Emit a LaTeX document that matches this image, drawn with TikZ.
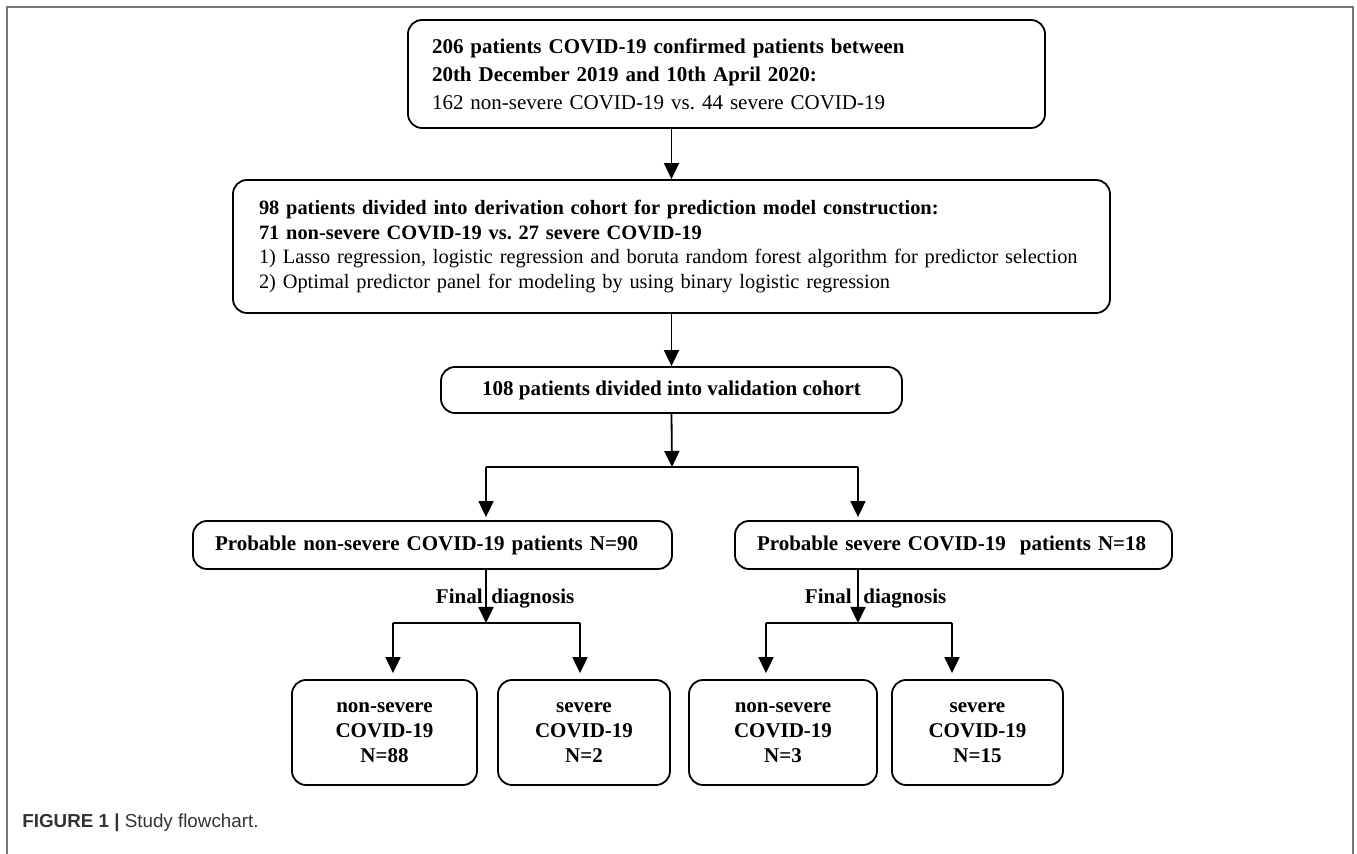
\documentclass[tikz,border=0pt]{standalone}
\usepackage{fontspec}
\setmainfont{Liberation Serif}
\newfontfamily\capfont{Liberation Sans}
\usetikzlibrary{arrows.meta,calc,positioning}
\definecolor{ink}{HTML}{000000}
\definecolor{frame}{HTML}{777777}
\definecolor{captxt}{HTML}{333333}
\tikzset{
  flowbox/.style={draw=ink,line width=0.9pt,rounded corners=7pt,inner ysep=0pt,font=\fontsize{10.5}{14}\selectfont},
  leftbox/.style={flowbox,align=left},
  midbox/.style={flowbox,align=center,inner xsep=0pt,font=\fontsize{10.5}{12.5}\selectfont\bfseries},
  flowarrow/.style={-{Triangle[length=8pt,width=7.5pt]},line width=0.9pt,draw=ink},
  bar/.style={line width=0.9pt,draw=ink},
  tag/.style={font=\fontsize{10.5}{12}\selectfont\bfseries,inner sep=0pt}
}
\frenchspacing

\begin{document}
\begin{tikzpicture}[x=0.5pt,y=-0.5pt]
        \useasboundingbox (0,0) rectangle (1357,854);
        \draw[frame,line width=1pt] (7,870) -- (7,7) -- (1353,7) -- (1353,870);

        % boxes
        \node[leftbox,inner xsep=12pt,text width=294.5pt,minimum height=54pt] (cohort) at (726.5,74)
          {\textbf{206 patients COVID-19 confirmed patients between}\\\textbf{20th December 2019 and 10th April 2020:}\\162 non-severe COVID-19 vs. 44 severe COVID-19};
        \node[leftbox,inner xsep=13pt,text width=412.5pt,minimum height=66.5pt,font=\fontsize{10.2}{12.4}\selectfont] (derive) at (671.5,246.5)
          {\textbf{98 patients divided into derivation cohort for prediction model construction:}\\\textbf{71 non-severe COVID-19 vs. 27 severe COVID-19}\\1) Lasso regression, logistic regression and boruta random forest algorithm for predictor selection\\2) Optimal predictor panel for modeling by using binary logistic regression};
        \node[midbox,minimum width=230.5pt,minimum height=23pt] (valid) at (671.5,390) {108 patients divided into validation cohort};

        \node[leftbox,inner xsep=11pt,text width=217.5pt,minimum height=24pt,font=\fontsize{10.5}{12}\selectfont\bfseries] (probns) at (432.5,545) {Probable non-severe COVID-19 patients N=90};
        \node[leftbox,inner xsep=11pt,text width=196.5pt,minimum height=24pt,font=\fontsize{10.5}{12}\selectfont\bfseries] (probsv) at (953.5,545) {Probable severe COVID-19~ patients N=18};

        \node[midbox,minimum width=92.5pt,minimum height=52.5pt] (nsns) at (384.5,732.5) {non-severe\\COVID-19\\N=88};
        \node[midbox,minimum width=86pt,minimum height=52.5pt] (nssv) at (584,732.5) {severe\\COVID-19\\N=2};
        \node[midbox,minimum width=94pt,minimum height=52.5pt] (svns) at (783,732.5) {non-severe\\COVID-19\\N=3};
        \node[midbox,minimum width=85.5pt,minimum height=52.5pt] (svsv) at (977.5,732.5) {severe\\COVID-19\\N=15};

        % split points
        \coordinate (split1) at (672,467);
        \coordinate (split1l) at (486,467);
        \coordinate (split1r) at (858,467);
        \coordinate (split2) at (486,623);
        \coordinate (split2l) at (393,623);
        \coordinate (split2r) at (580,623);
        \coordinate (split3) at (858,623);
        \coordinate (split3l) at (766,623);
        \coordinate (split3r) at (952,623);

        \draw[flowarrow] (cohort.south -| derive.north) -- (derive.north);
        \draw[flowarrow] (derive.south) -- (valid.north);
        \draw[flowarrow] (valid.south) -- (split1);
        \draw[bar] (split1l) -- (split1r);
        \draw[flowarrow,shorten >=1.5pt] (split1l) -- (split1l |- probns.north);
        \draw[flowarrow,shorten >=1.5pt] (split1r) -- (split1r |- probsv.north);

        \draw[flowarrow] (probns.south -| split2) -- (split2);
        \draw[bar] (split2l) -- (split2r);
        \draw[flowarrow,shorten >=3pt] (split2l) -- (split2l |- nsns.north);
        \draw[flowarrow,shorten >=3pt] (split2r) -- (split2r |- nssv.north);

        \draw[flowarrow] (probsv.south -| split3) -- (split3);
        \draw[bar] (split3l) -- (split3r);
        \draw[flowarrow,shorten >=3pt] (split3l) -- (split3l |- svns.north);
        \draw[flowarrow,shorten >=3pt] (split3r) -- (split3r |- svsv.north);

        \node[tag,anchor=base east] (final1) at (483,604) {Final};
        \node[tag,anchor=base west] (diag1) at (491,604) {diagnosis};
        \node[tag,anchor=base east] (final2) at (852,604) {Final};
        \node[tag,anchor=base west] (diag2) at (863,604) {diagnosis};

        \node[anchor=base west,inner sep=0pt,text=captxt,font=\capfont\fontsize{9.4}{11}\selectfont] (caption) at (22,828)
          {\textbf{FIGURE 1 |} Study flowchart.};
\end{tikzpicture}
\end{document}
